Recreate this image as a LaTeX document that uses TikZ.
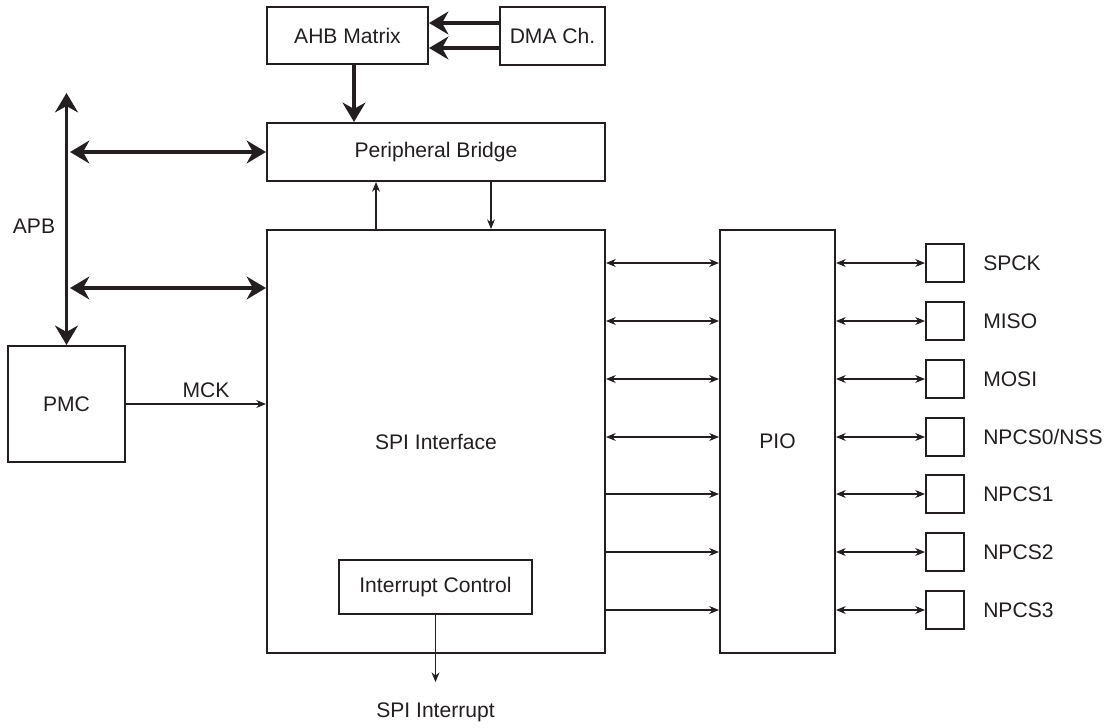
\documentclass[tikz,border=0pt]{standalone}
\usepackage{fontspec}
\setmainfont{Liberation Sans}
\usetikzlibrary{arrows.meta,positioning,calc}
\definecolor{ink}{RGB}{35,31,32}

\begin{document}
\begin{tikzpicture}[
    x=0.02cm, y=-0.02cm,
    font=\fontsize{12}{14}\selectfont,
    every node/.style={text=ink},
    block/.style={draw=ink,line width=1.2pt,inner sep=0},
    pin/.style={block,minimum size=0.76cm},
    bus/.style={draw=ink,line width=2.2pt,>={Stealth[length=11pt,width=13pt]}},
    sig/.style={draw=ink,line width=0.6pt,>={Stealth[length=5.5pt,width=4.5pt]}},
  ]
    \useasboundingbox (0,0) rectangle (1111,727);
    \node[block,minimum width=3.22cm,minimum height=1.14cm] (ahb) at (347.5,35.5) {AHB Matrix};
    \node[block,minimum width=2.1cm,minimum height=1.16cm] (dma) at (552.5,36) {DMA Ch.};
    \node[block,minimum width=6.76cm,minimum height=1.16cm] (bridge) at (436,152) {Peripheral Bridge};
    \node[block,minimum width=6.76cm,minimum height=8.46cm] (spi) at (436,441.5) {SPI Interface};
    \node[block,minimum width=3.86cm,minimum height=1.08cm] (intc) at (435.5,587) {Interrupt Control};
    \node[block,minimum width=2.3cm,minimum height=8.46cm] (pio) at (777.5,441.5) {PIO};
    \node[block,minimum width=2.34cm,minimum height=2.32cm] (pmc) at (66.5,404) {PMC};
    \node (apb) at (34,226) {APB};
    \foreach \y/\name [count=\i] in {263/SPCK,321/MISO,379/MOSI,437/{NPCS0/NSS},494/NPCS1,552/NPCS2,610/NPCS3}{
      \node[pin] (p\i) at (945,\y) {};
      \node[right=0.24cm of p\i] (l\i) {\name};
    }
    % DMA and AHB
    \draw[bus,->] ([yshift=0.26cm]dma.west) -- ([yshift=0.26cm]dma.west -| ahb.east);
    \draw[bus,->] ([yshift=-0.24cm]dma.west) -- ([yshift=-0.24cm]dma.west -| ahb.east);
    \draw[bus,->] ([xshift=0.13cm]ahb.south) -- ([xshift=0.13cm]ahb.south |- bridge.north);
    % APB
    \coordinate (apbtop) at (66.5,93);
    \draw[bus,<->] (apbtop) -- (pmc.north);
    \draw[bus,<->,shorten <=0.07cm] (apbtop |- bridge.west) -- (bridge.west);
    \draw[bus,<->,shorten <=0.07cm] (apbtop |- 0,288) -- (spi.west |- 0,288);
    \draw[sig,->] ([xshift=-1.2cm]spi.north) -- ([xshift=-1.2cm]spi.north |- bridge.south);
    \draw[sig,->] ([xshift=1.1cm]bridge.south) -- ([xshift=1.1cm]bridge.south |- spi.north);
    \draw[sig,->] (pmc.east) -- (pmc.east -| spi.west) node[midway,above,xshift=0.2cm] {MCK};
    % pins
    \foreach \i in {1,...,4}
      \draw[sig,<->] (spi.east |- p\i) -- (pio.west |- p\i);
    \foreach \i in {5,6,7}
      \draw[sig,->] (spi.east |- p\i) -- (pio.west |- p\i);
    \foreach \i in {1,...,7}
      \draw[sig,<->] (pio.east |- p\i) -- (p\i);
    \draw[sig,->] (intc.south) -- ++(0,67) coordinate (irq);
    \node[below=0.3cm of irq] (irqlabel) {SPI Interrupt};
  \end{tikzpicture}
\end{document}
